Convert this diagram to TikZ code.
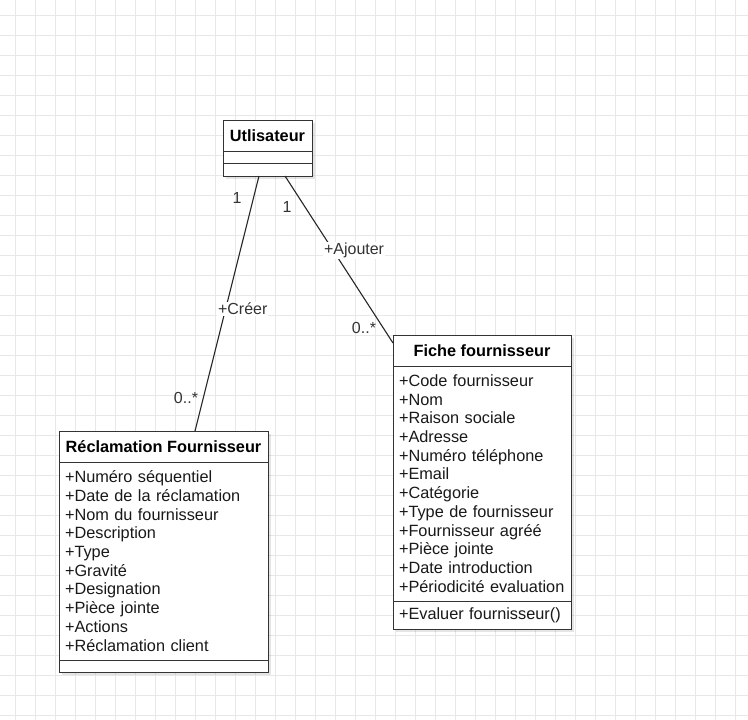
\documentclass[tikz,border=0pt]{standalone}
\usepackage{fontspec}
\setmainfont{Liberation Sans}
\usetikzlibrary{calc,shadows}
\tikzstyle{gridline}=[draw=black!9, line width=1pt]
\tikzstyle{umlbox}=[draw=black!80, line width=1pt, fill=white, anchor=north west, outer sep=0pt, inner sep=0pt,
  drop shadow={shadow xshift=3pt, shadow yshift=-3pt, fill=black, opacity=0.10}]
\tikzstyle{classhead}=[umlbox, font=\bfseries\fontsize{16.3}{18.7}\selectfont, minimum height=31]
\tikzstyle{classpart}=[umlbox, font=\fontsize{16.3}{18.7}\selectfont, align=left, inner xsep=6pt, text=black!90]
\tikzstyle{assoc}=[draw=black!85, line width=1.1pt]
\tikzstyle{lbl}=[fill=white, inner sep=1pt, font=\fontsize{16}{18}\selectfont, text=black!80]
\tikzstyle{mult}=[inner sep=0pt, font=\fontsize{16}{18}\selectfont, text=black!80]

\begin{document}
\begin{tikzpicture}[x=1pt, y=-1pt]
	\useasboundingbox (0,0) rectangle (748,720);
	\fill[white] (0,0) rectangle (748,720);
	% background grid
	\foreach \gx in {15,35,...,735} \draw[gridline] (\gx,0) -- (\gx,720);
	\foreach \gy in {15,35,...,715} \draw[gridline] (0,\gy) -- (748,\gy);

	% Utlisateur
	\node[classhead, minimum width=89] (util) at (223,120) {Utlisateur};
	\node[classpart, minimum width=89, minimum height=12] (utilA) at (util.south west) {};
	\node[classpart, minimum width=89, minimum height=13] (utilB) at (utilA.south west) {};

	% Reclamation Fournisseur
	\node[classhead, minimum width=209] (recl) at (59,431) {Réclamation Fournisseur};
	\node[classpart, text width=197, minimum height=198] (reclA) at (recl.south west) {
		+Numéro séquentiel\\
		+Date de la réclamation\\
		+Nom du fournisseur\\
		+Description\\
		+Type\\
		+Gravité\\
		+Designation\\
		+Pièce jointe\\
		+Actions\\
		+Réclamation client};
	\node[classpart, minimum width=209, minimum height=12] (reclB) at (reclA.south west) {};

	% Fiche fournisseur
	\node[classhead, minimum width=178] (fiche) at (393,335) {Fiche fournisseur};
	\node[classpart, text width=166, minimum height=235] (ficheA) at (fiche.south west) {
		+Code fournisseur\\
		+Nom\\
		+Raison sociale\\
		+Adresse\\
		+Numéro téléphone\\
		+Email\\
		+Catégorie\\
		+Type de fournisseur\\
		+Fournisseur agréé\\
		+Pièce jointe\\
		+Date introduction\\
		+Périodicité evaluation};
	\node[classpart, text width=166, minimum height=28] (ficheB) at (ficheA.south west) {+Evaluer fournisseur()};

	% associations
	\coordinate (u1) at ($(utilB.south west)+(36,0)$);
	\coordinate (u2) at ($(utilB.south west)+(62,0)$);
	\coordinate (r1) at ($(recl.north west)+(136,0)$);
	\coordinate (f1) at ($(fiche.north west)+(0,8)$);
	\draw[assoc] (u1) -- node[lbl, pos=0.52, xshift=17] {+Créer} (r1);
	\draw[assoc] (u2) -- node[lbl, pos=0.445, xshift=21] {+Ajouter} (f1);
	\node[mult] (m1) at ($(u1)+(-22,22)$) {1};
	\node[mult] (m2) at ($(u2)+(2,31)$) {1};
	\node[mult] (m3) at ($(r1)+(-9,-33)$) {0..*};
	\node[mult] (m4) at ($(f1)+(-29,-15)$) {0..*};
\end{tikzpicture}
\end{document}
